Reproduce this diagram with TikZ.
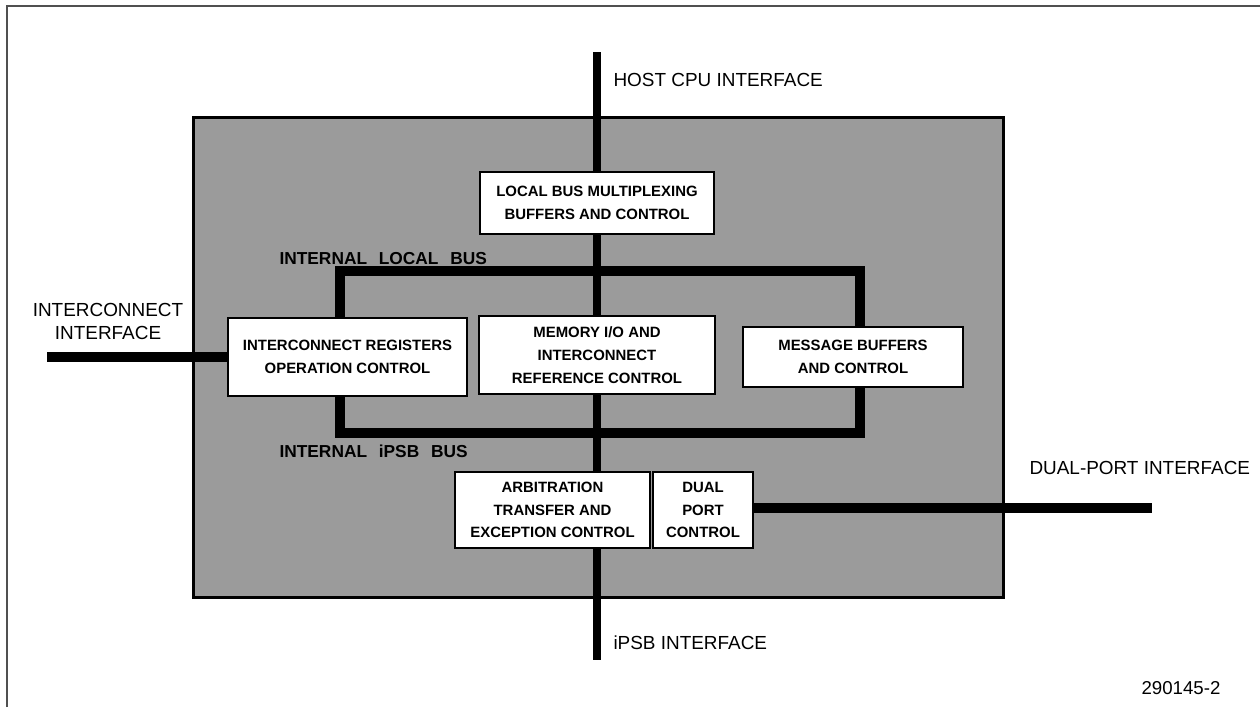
\documentclass[tikz,border=0pt]{standalone}
\usepackage{fontspec}
\setmainfont{Liberation Sans}

\tikzset{every picture/.style={line width=0.75pt}}
\tikzset{
  unitbox/.style={draw=black, line width=2pt, fill=white, align=center, inner sep=0.75pt,
    font=\fontsize{11.2}{17}\selectfont\bfseries},
  buslabel/.style={anchor=west, inner sep=0.75pt, font=\fontsize{13}{15}\selectfont\bfseries},
  portlabel/.style={inner sep=0.75pt, font=\fontsize{14.2}{17.25}\selectfont},
  busline/.style={line width=7pt},
}

\begin{document}
\begin{tikzpicture}[x=0.75pt,y=0.75pt,yscale=-1,xscale=1]
\useasboundingbox (0,0) rectangle (1260,707);

%Shape: Frame
\draw [color={rgb, 255:red, 80; green, 80; blue, 80 }, line width=2pt] (7,707) -- (7,6) -- (1260,6) ;
%Shape: Chip block
\draw [fill={rgb, 255:red, 155; green, 155; blue, 155 }, line width=2.25pt] (193,117) rectangle (1003,597) ;
%Shape: Internal local bus / internal iPSB bus ring
\draw [busline] (340,271) rectangle (860,433) ;

% Unit boxes
\node [unitbox, minimum width=175.5pt, minimum height=46.5pt] (lbmux) at (597,203) {LOCAL BUS MULTIPLEXING\\BUFFERS AND CONTROL};
\node [unitbox, minimum width=179.25pt, minimum height=58.5pt] (icreg) at (347.5,357) {INTERCONNECT REGISTERS\\OPERATION CONTROL};
\node [unitbox, minimum width=177pt, minimum height=58.5pt] (memio) at (597,355) {MEMORY I/O AND\\INTERCONNECT\\REFERENCE CONTROL};
\node [unitbox, minimum width=165pt, minimum height=45pt] (msgbuf) at (853,357) {MESSAGE BUFFERS\\AND CONTROL};
\node [unitbox, minimum width=146.25pt, minimum height=57pt] (arb) at (552.5,510) {ARBITRATION\\TRANSFER AND\\EXCEPTION CONTROL};
\node [unitbox, minimum width=75pt, minimum height=57pt] (dpc) at (703,510) {DUAL\\PORT\\CONTROL};

% Port ends
\coordinate (host) at (597,52);
\coordinate (ipsb) at (597,660);
\coordinate (icin) at (47,357);
\coordinate (dpout) at (1152,508);

%Straight Lines: host / iPSB path
\draw [busline, line width=6pt] (host) -- (lbmux.north) ;
\draw [busline, line width=6pt] (lbmux.south) -- (memio.north) ;
\draw [busline, line width=6pt] (memio.south) -- (memio.south |- arb.north) ;
\draw [busline, line width=6pt] (arb.south -| host) -- (ipsb) ;
%Straight Lines: interconnect and dual-port
\draw [busline, line width=7.5pt] (icin) -- (icreg.west) ;
\draw [busline, line width=7.5pt] (dpc.east |- dpout) -- (dpout) ;

% Text Node
\node [portlabel, anchor=west] (hostlbl) at (612,80) {HOST CPU INTERFACE};
% Text Node
\node [portlabel, align=center] (iclbl) at (108,321) {INTERCONNECT\\INTERFACE};
% Text Node
\node [buslabel] (lbuslbl) at (278,259) {INTERNAL\hspace{0.4em} LOCAL\hspace{0.4em} BUS};
% Text Node
\node [buslabel] (pbuslbl) at (278,451) {INTERNAL\hspace{0.4em} iPSB\hspace{0.4em} BUS};
% Text Node
\node [portlabel, anchor=west] (dplbl) at (1028,468) {DUAL-PORT INTERFACE};
% Text Node
\node [portlabel, anchor=west] (ipsblbl) at (612,643) {iPSB INTERFACE};
% Text Node
\node [portlabel, anchor=west, font=\fontsize{14}{16}\selectfont] (figno) at (1140,688) {290145-2};

\end{tikzpicture}
\end{document}
